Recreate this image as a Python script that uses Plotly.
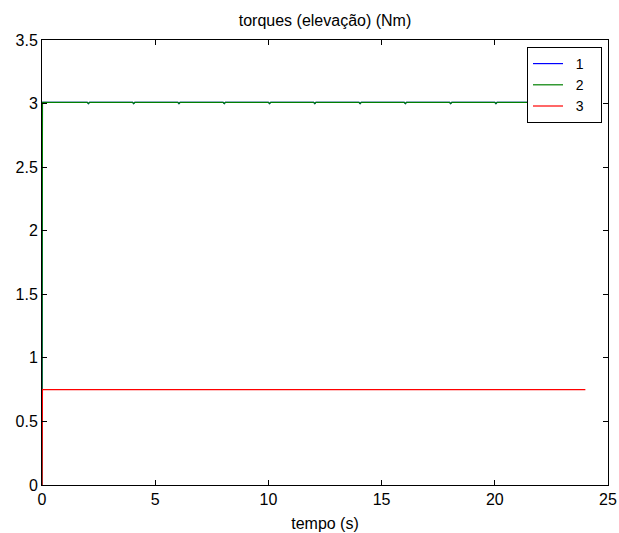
import plotly.graph_objects as go

t = [0, 0.02, 2.0, 2.05, 2.1, 4.0, 4.05, 4.1, 6.0, 6.05, 6.1, 8.0, 8.05, 8.1, 10.0, 10.05, 10.1, 12.0, 12.05, 12.1, 14.0, 14.05, 14.1, 16.0, 16.05, 16.1, 18.0, 18.05, 18.1, 20.0, 20.05, 20.1, 24.0]
torque1 = [0, 3.01, 3.01, 3.0, 3.01, 3.01, 3.0, 3.01, 3.01, 3.0, 3.01, 3.01, 3.0, 3.01, 3.01, 3.0, 3.01, 3.01, 3.0, 3.01, 3.01, 3.0, 3.01, 3.01, 3.0, 3.01, 3.01, 3.0, 3.01, 3.01, 3.0, 3.01, 3.01]
torque2 = [0, 3.01, 3.01, 3.0, 3.01, 3.01, 3.0, 3.01, 3.01, 3.0, 3.01, 3.01, 3.0, 3.01, 3.01, 3.0, 3.01, 3.01, 3.0, 3.01, 3.01, 3.0, 3.01, 3.01, 3.0, 3.01, 3.01, 3.0, 3.01, 3.01, 3.0, 3.01, 3.01]
t3 = [0, 0.02, 24.0]
torque3 = [0, 0.75, 0.75]
series_names = ["1", "2", "3"]

x_ticks = [0, 5, 10, 15, 20, 25]
y_ticks = [0, 0.5, 1, 1.5, 2, 2.5, 3, 3.5]
y_labels = ["0", "0.5", "1", "1.5", "2", "2.5", "3", "3.5"]

FONT = "Liberation Sans, Arial"
FS = 16
NB = "\u00a0"

def pad(s):
    return NB * 2 + s + NB * 3

fig = go.Figure()
fig.add_trace(go.Scatter(x=t, y=torque1, mode="lines", name=pad(series_names[0]), line=dict(color="#0000ff", width=1.2)))
fig.add_trace(go.Scatter(x=t, y=torque2, mode="lines", name=pad(series_names[1]), line=dict(color="#008000", width=1.2)))
fig.add_trace(go.Scatter(x=t3, y=torque3, mode="lines", name=pad(series_names[2]), line=dict(color="#ff0000", width=1.2)))

axis_common = dict(showgrid=False, zeroline=False, showline=True, linecolor="black", linewidth=1,
                   mirror="ticks", ticks="inside", ticklen=5, tickcolor="black", automargin=False,
                   tickfont=dict(family=FONT, size=FS, color="black"))

fig.update_layout(
    width=619, height=533,
    margin=dict(l=42, r=11, t=40, b=48),
    paper_bgcolor="white", plot_bgcolor="white",
    title=dict(text="torques (elevação) (Nm)", x=(42 + 608) / 2 / 619, xanchor="center", y=1 - 20/533, yanchor="middle",
               font=dict(family=FONT, size=FS, color="black")),
    xaxis=dict(range=[0, 25], tickvals=x_ticks, ticktext=[str(v) for v in x_ticks],
               title=dict(text="tempo (s)", standoff=10, font=dict(family=FONT, size=FS, color="black")),
               **axis_common),
    yaxis=dict(range=[0, 3.5], tickvals=y_ticks, ticktext=y_labels, **axis_common),
    legend=dict(x=(527 - 42) / 566, y=(485 - 47) / 445, xanchor="left", yanchor="top", bgcolor="white",
                bordercolor="black", borderwidth=1, tracegroupgap=0,
                font=dict(family=FONT, size=14, color="black")),
    showlegend=True,
)

fig.write_html("out.html", config={"displayModeBar": False},
               post_script="document.body.style.margin='0px';")
